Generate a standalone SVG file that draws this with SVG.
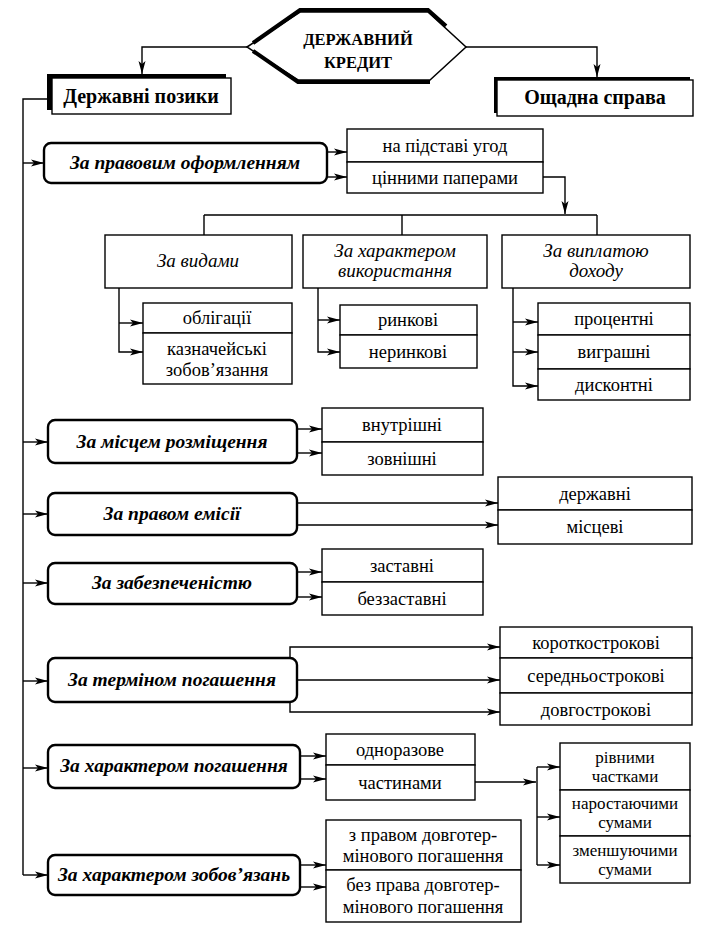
<svg xmlns="http://www.w3.org/2000/svg" width="707" height="934" viewBox="0 0 707 934">
<defs>
<marker id="arr" markerUnits="userSpaceOnUse" markerWidth="14" markerHeight="8" refX="13" refY="4" orient="auto">
<path d="M0,0.5 L13,4 L0,7.5 L3,4 z" fill="#000"/>
</marker>
<style>
.box{fill:#fff;stroke:#000;stroke-width:1.4}
.cat{fill:#fff;stroke:#000;stroke-width:2.4}
.ln{fill:none;stroke:#000;stroke-width:1.4}
.ar{fill:none;stroke:#000;stroke-width:1.4;marker-end:url(#arr)}
text{font-family:"Liberation Serif","Times New Roman",serif;text-anchor:middle;fill:#000}
.t{font-size:18.5px}
.ts{font-size:17px}
.ti{font-size:19px;font-style:italic}
.tc{font-size:19.5px;font-style:italic;font-weight:bold}
.tb{font-size:20px;font-weight:bold}
.th{font-size:16.5px;font-weight:bold}
</style>
</defs>
<rect width="707" height="934" fill="#fff"/>

<g id="connectors">
<path class="ar" d="M247,47 H142 V74"/>
<path class="ar" d="M466,47 H597 V77"/>
<path class="ln" d="M47,99 H23 V875"/>
<path class="ar" d="M23,163 H44"/>
<path class="ar" d="M23,442 H48"/>
<path class="ar" d="M23,514 H48"/>
<path class="ar" d="M23,583 H48"/>
<path class="ar" d="M23,681 H48"/>
<path class="ar" d="M23,768 H48"/>
<path class="ar" d="M23,875 H48"/>
<path class="ar" d="M327,152 H347"/>
<path class="ar" d="M327,177 H347"/>
<path class="ar" d="M543,177 H565 V214"/>
<path class="ln" d="M204,215 H597 M204,215 V235 M402,215 V235 M597,215 V235"/>
<path class="ar" d="M119,288 V352 H143"/>
<path class="ar" d="M119,323 H143"/>
<path class="ar" d="M318,288 V352 H340"/>
<path class="ar" d="M318,320 H340"/>
<path class="ar" d="M513,288 V386 H538"/>
<path class="ar" d="M513,322 H538"/>
<path class="ar" d="M513,352 H538"/>
<path class="ar" d="M297,429 H322"/>
<path class="ar" d="M297,453 H322"/>
<path class="ar" d="M297,503 H498"/>
<path class="ar" d="M297,525 H498"/>
<path class="ar" d="M297,572 H322"/>
<path class="ar" d="M297,597 H322"/>
<path class="ar" d="M290,658 V647 H500"/>
<path class="ar" d="M297,680 H500"/>
<path class="ar" d="M290,702 V712 H500"/>
<path class="ar" d="M300,756 H326"/>
<path class="ar" d="M300,779 H326"/>
<path class="ar" d="M475,782 H536"/>
<path class="ln" d="M537,767 V865"/>
<path class="ar" d="M537,767 H560"/>
<path class="ar" d="M537,817 H560"/>
<path class="ar" d="M537,865 H560"/>
<path class="ar" d="M300,865 H326"/>
<path class="ar" d="M300,887 H326"/>
</g>

<g id="credit">
<path d="M247,47 L300,12 L428,12 L466,47 L430,80 L298,80 Z" fill="#fff" stroke="#000" stroke-width="1.5"/>
<path d="M253,43 L300,10 L428,10 L446,26" fill="none" stroke="#000" stroke-width="4"/>
<path d="M253,51 L298,82 L430,82" fill="none" stroke="#000" stroke-width="4"/>
<text class="th" x="358" y="45">ДЕРЖАВНИЙ</text>
<text class="th" x="358" y="68">КРЕДИТ</text>
</g>

<g id="loans">
<rect x="47" y="74" width="179" height="36" fill="#000"/>
<rect class="box" x="52" y="78" width="179" height="36"/>
<text class="tb" x="141" y="103">Державні позики</text>
</g>

<g id="savings">
<rect x="494" y="77" width="196" height="36" fill="#000"/>
<rect class="box" x="497" y="80" width="196" height="36"/>
<text class="tb" x="595" y="104">Ощадна справа</text>
</g>

<g id="cat1">
<rect class="cat" x="44" y="143" width="283" height="40" rx="7"/>
<text class="tc" x="185" y="169">За правовим оформленням</text>
</g>
<g id="cat1-a"><rect class="box" x="347" y="129" width="196" height="33"/><text class="t" x="445" y="152">на підставі угод</text></g>
<g id="cat1-b"><rect class="box" x="347" y="162" width="196" height="31"/><text class="t" x="445" y="184">цінними паперами</text></g>

<g id="types"><rect class="box" x="105" y="235" width="187" height="53"/><text class="ti" x="198" y="267">За видами</text></g>
<g id="use"><rect class="box" x="303" y="235" width="184" height="53"/><text class="ti" x="395" y="257">За характером</text><text class="ti" x="395" y="277">використання</text></g>
<g id="income"><rect class="box" x="502" y="235" width="188" height="53"/><text class="ti" x="596" y="257">За виплатою</text><text class="ti" x="596" y="277">доходу</text></g>

<g id="bonds"><rect class="box" x="143" y="303" width="149" height="30"/><text class="t" x="217" y="324">облігації</text></g>
<g id="treasury"><rect class="box" x="143" y="333" width="149" height="51"/><text class="t" x="217" y="355">казначейські</text><text class="t" x="217" y="376">зобов’язання</text></g>
<g id="market"><rect class="box" x="340" y="305" width="137" height="30"/><text class="t" x="408" y="326">ринкові</text></g>
<g id="nonmarket"><rect class="box" x="340" y="335" width="137" height="33"/><text class="t" x="408" y="358">неринкові</text></g>
<g id="interest"><rect class="box" x="538" y="303" width="152" height="32"/><text class="t" x="614" y="325">процентні</text></g>
<g id="lottery"><rect class="box" x="538" y="335" width="152" height="34"/><text class="t" x="614" y="358">виграшні</text></g>
<g id="discount"><rect class="box" x="538" y="369" width="152" height="31"/><text class="t" x="614" y="391">дисконтні</text></g>

<g id="cat2"><rect class="cat" x="48" y="420" width="249" height="43" rx="7"/><text class="tc" x="172" y="448">За місцем розміщення</text></g>
<g id="internal"><rect class="box" x="322" y="408" width="161" height="34"/><text class="t" x="402" y="431">внутрішні</text></g>
<g id="external"><rect class="box" x="322" y="442" width="161" height="33"/><text class="t" x="402" y="465">зовнішні</text></g>

<g id="cat3"><rect class="cat" x="48" y="493" width="249" height="42" rx="7"/><text class="tc" x="172" y="520">За правом емісії</text></g>
<g id="state"><rect class="box" x="498" y="477" width="194" height="33"/><text class="t" x="595" y="500">державні</text></g>
<g id="local"><rect class="box" x="498" y="510" width="194" height="34"/><text class="t" x="595" y="533">місцеві</text></g>

<g id="cat4"><rect class="cat" x="48" y="563" width="249" height="41" rx="7"/><text class="tc" x="172" y="589">За забезпеченістю</text></g>
<g id="secured"><rect class="box" x="322" y="549" width="161" height="33"/><text class="t" x="402" y="572">заставні</text></g>
<g id="unsecured"><rect class="box" x="322" y="582" width="161" height="33"/><text class="t" x="402" y="605">беззаставні</text></g>

<g id="cat5"><rect class="cat" x="48" y="658" width="249" height="44" rx="7"/><text class="tc" x="172" y="686">За терміном погашення</text></g>
<g id="short"><rect class="box" x="500" y="627" width="192" height="31"/><text class="t" x="596" y="649">короткострокові</text></g>
<g id="medium"><rect class="box" x="500" y="658" width="192" height="35"/><text class="t" x="596" y="682">середньострокові</text></g>
<g id="long"><rect class="box" x="500" y="693" width="192" height="32"/><text class="t" x="596" y="716">довгострокові</text></g>

<g id="cat6"><rect class="cat" x="48" y="745" width="252" height="43" rx="7"/><text class="tc" x="174" y="772">За характером погашення</text></g>
<g id="once"><rect class="box" x="326" y="734" width="149" height="31"/><text class="t" x="400" y="756">одноразове</text></g>
<g id="parts"><rect class="box" x="326" y="765" width="149" height="35"/><text class="t" x="400" y="789">частинами</text></g>
<g id="equal"><rect class="box" x="560" y="743" width="130" height="47"/><text class="ts" x="625" y="763">рівними</text><text class="ts" x="625" y="782">частками</text></g>
<g id="growing"><rect class="box" x="560" y="790" width="130" height="46"/><text class="ts" x="625" y="809">наростаючими</text><text class="ts" x="625" y="828">сумами</text></g>
<g id="decreasing"><rect class="box" x="560" y="836" width="130" height="47"/><text class="ts" x="625" y="856">зменшуючими</text><text class="ts" x="625" y="875">сумами</text></g>

<g id="cat7"><rect class="cat" x="48" y="855" width="252" height="40" rx="7"/><text class="tc" x="174" y="881">За характером зобов’язань</text></g>
<g id="with-right"><rect class="box" x="326" y="820" width="195" height="50"/><text class="t" x="423" y="841">з правом довготер-</text><text class="t" x="423" y="862">мінового погашення</text></g>
<g id="without-right"><rect class="box" x="326" y="870" width="195" height="52"/><text class="t" x="423" y="891">без права довготер-</text><text class="t" x="423" y="913">мінового погашення</text></g>
</svg>
